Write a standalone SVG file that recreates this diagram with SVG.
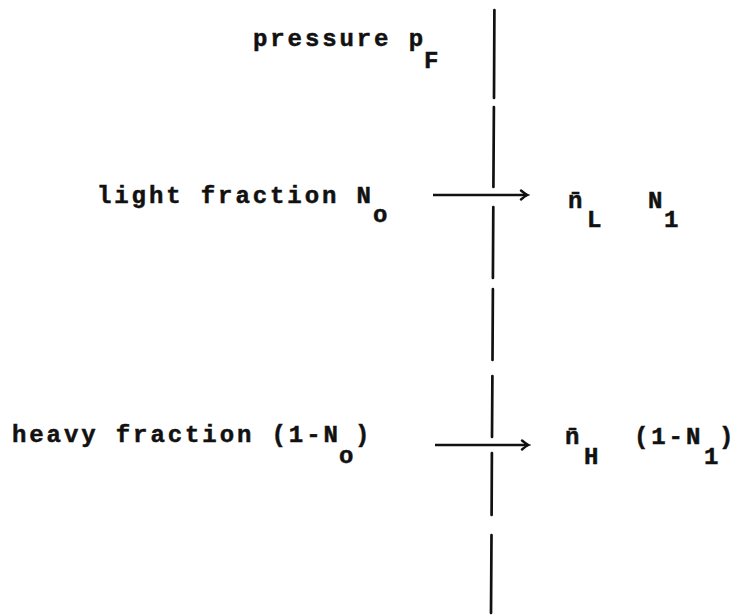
<svg xmlns="http://www.w3.org/2000/svg" width="745" height="616" viewBox="0 0 745 616">
<defs>
<style>
text{font-family:"Liberation Mono","DejaVu Sans Mono",monospace;font-weight:bold;font-size:24px;letter-spacing:2.9px;fill:#111;stroke:#111;stroke-width:0.5}
.wall{stroke:#111;stroke-width:2.7;fill:none;stroke-linecap:round}
.arr{stroke:#111;stroke-width:2.6;fill:none;marker-end:url(#ah)}
</style>
<marker id="ah" markerWidth="12" markerHeight="12" refX="9" refY="6" orient="auto" markerUnits="userSpaceOnUse">
<path d="M3,1.5 Q7,5 9.5,6 Q7,7 3,10.5" fill="none" stroke="#111" stroke-width="2.4" stroke-linecap="round"/>
</marker>
</defs>
<rect width="745" height="616" fill="#fff"/>
<g id="wall" class="wall">
<line x1="494.4" y1="10" x2="494" y2="98"/>
<line x1="493.9" y1="107" x2="493.4" y2="187"/>
<line x1="493.3" y1="207" x2="492.9" y2="278"/>
<line x1="492.9" y1="289" x2="492.5" y2="360"/>
<line x1="492.4" y1="376" x2="492" y2="437"/>
<line x1="491.9" y1="453" x2="491.6" y2="515"/>
<line x1="491.5" y1="535" x2="491" y2="613"/>
</g>
<g id="connectors">
<line class="arr" x1="433" y1="195" x2="527" y2="195"/>
<line class="arr" x1="435" y1="445" x2="528" y2="445"/>
</g>
<g id="pressure">
<text x="253" y="46">pressure p</text>
<text x="424" y="68">F</text>
</g>
<g id="light-in">
<text x="97" y="203">light fraction N</text>
<text x="373" y="222">o</text>
</g>
<g id="light-out">
<text x="568" y="208">n̄</text>
<text x="587" y="227">L</text>
<text x="648" y="208">N</text>
<text x="664" y="227">1</text>
</g>
<g id="heavy-in">
<text x="12" y="442">heavy fraction (1-N</text>
<text x="339" y="463">o</text>
<text x="355" y="442">)</text>
</g>
<g id="heavy-out">
<text x="565" y="444">n̄</text>
<text x="584" y="464">H</text>
<text x="634" y="444">(1-N</text>
<text x="704" y="464">1</text>
<text x="719" y="444">)</text>
</g>
</svg>
